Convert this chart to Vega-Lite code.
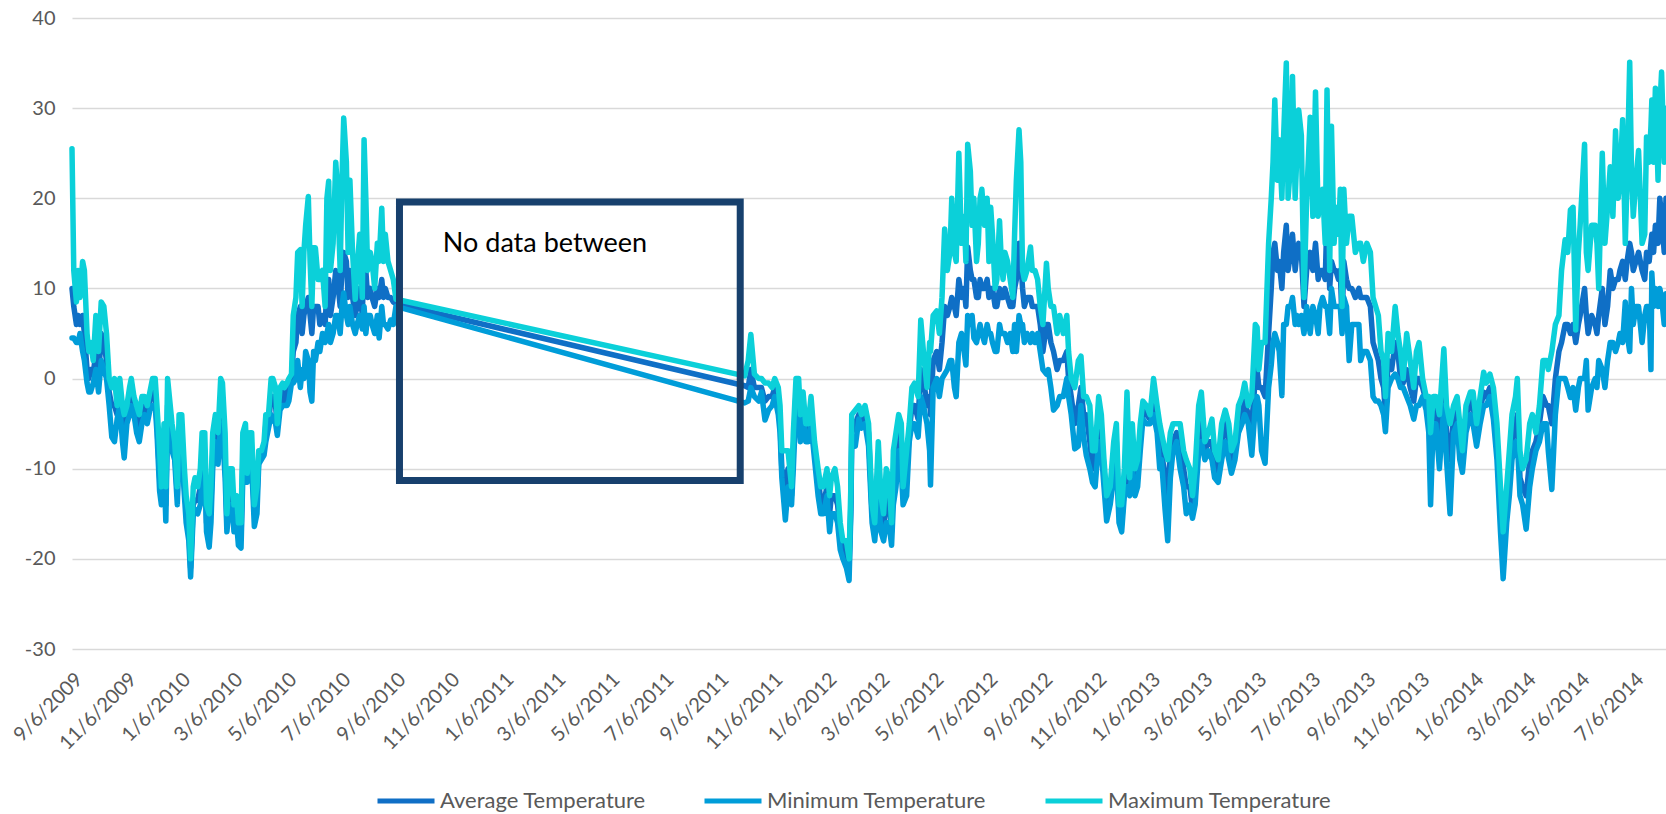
{
"$schema": "https://vega.github.io/schema/vega-lite/v6.json",
"width": 1594, "height": 631,
"autosize": {"type": "none"},
"padding": {"left": 72, "top": 18, "right": 0, "bottom": 165},
"background": "white",
"config": {"view": {"stroke": null}, "font": "Lato"},
"datasets": {"temps": [
{"date":"2009-09-06","max":25.5,"avg":10,"min":4.5},
{"date":"2009-09-08","max":12,"avg":8,"min":4.5},
{"date":"2009-09-11","max":8.5,"avg":6,"min":4},
{"date":"2009-09-13","max":12,"avg":7,"min":4},
{"date":"2009-09-15","max":9,"avg":6,"min":5},
{"date":"2009-09-18","max":13,"avg":7,"min":3},
{"date":"2009-09-20","max":12,"avg":5,"min":2},
{"date":"2009-09-23","max":5,"avg":1,"min":-0.5},
{"date":"2009-09-25","max":3,"avg":0,"min":-1.5},
{"date":"2009-09-27","max":4,"avg":1,"min":-1.5},
{"date":"2009-09-30","max":2,"avg":0.5,"min":-0.5},
{"date":"2009-10-03","max":7,"avg":3,"min":1},
{"date":"2009-10-06","max":3,"avg":0,"min":-1.5},
{"date":"2009-10-09","max":8.5,"avg":5,"min":2},
{"date":"2009-10-12","max":8,"avg":4,"min":1},
{"date":"2009-10-15","max":5,"avg":2,"min":0},
{"date":"2009-10-18","max":0,"avg":-1.5,"min":-3},
{"date":"2009-10-21","max":-1,"avg":-3,"min":-6.5},
{"date":"2009-10-24","max":0,"avg":-3,"min":-7},
{"date":"2009-10-27","max":-3,"avg":-4,"min":-4.5},
{"date":"2009-10-30","max":0,"avg":-2,"min":-3},
{"date":"2009-11-02","max":-3,"avg":-5,"min":-7},
{"date":"2009-11-04","max":-4,"avg":-6,"min":-8.8},
{"date":"2009-11-07","max":-3,"avg":-4,"min":-5},
{"date":"2009-11-10","max":-1,"avg":-2.5,"min":-4},
{"date":"2009-11-12","max":0,"avg":-1.5,"min":-3},
{"date":"2009-11-15","max":-2,"avg":-3,"min":-4},
{"date":"2009-11-18","max":-3,"avg":-4.5,"min":-6},
{"date":"2009-11-21","max":-4,"avg":-5.5,"min":-7},
{"date":"2009-11-24","max":-2,"avg":-3.5,"min":-5},
{"date":"2009-11-27","max":-2,"avg":-3,"min":-4},
{"date":"2009-11-30","max":-3,"avg":-4,"min":-5},
{"date":"2009-12-03","max":-1.5,"avg":-2.5,"min":-3.5},
{"date":"2009-12-06","max":0,"avg":-1.5,"min":-3},
{"date":"2009-12-09","max":0,"avg":-2,"min":-3},
{"date":"2009-12-11","max":-3,"avg":-5,"min":-6},
{"date":"2009-12-14","max":-8,"avg":-11,"min":-12.5},
{"date":"2009-12-16","max":-12,"avg":-13,"min":-14},
{"date":"2009-12-19","max":-5,"avg":-8,"min":-10},
{"date":"2009-12-21","max":-12,"avg":-14,"min":-15.8},
{"date":"2009-12-23","max":0,"avg":-3,"min":-5},
{"date":"2009-12-26","max":-3,"avg":-5,"min":-7},
{"date":"2009-12-28","max":-5,"avg":-6,"min":-8},
{"date":"2009-12-31","max":-7,"avg":-8,"min":-9},
{"date":"2010-01-03","max":-12,"avg":-13,"min":-14},
{"date":"2010-01-05","max":-4,"avg":-6,"min":-7.5},
{"date":"2010-01-08","max":-4,"avg":-6,"min":-8},
{"date":"2010-01-11","max":-10,"avg":-12,"min":-13},
{"date":"2010-01-13","max":-13,"avg":-14.5,"min":-16},
{"date":"2010-01-16","max":-15,"avg":-17,"min":-18},
{"date":"2010-01-18","max":-20,"avg":-21,"min":-22},
{"date":"2010-01-21","max":-12,"avg":-14,"min":-15},
{"date":"2010-01-23","max":-11,"avg":-13.5,"min":-14.5},
{"date":"2010-01-26","max":-12,"avg":-13.5,"min":-15},
{"date":"2010-01-29","max":-10,"avg":-12,"min":-14},
{"date":"2010-01-31","max":-6,"avg":-9,"min":-11},
{"date":"2010-02-03","max":-6,"avg":-8,"min":-10},
{"date":"2010-02-05","max":-14,"avg":-16,"min":-17},
{"date":"2010-02-08","max":-15,"avg":-17,"min":-18.7},
{"date":"2010-02-10","max":-12,"avg":-14,"min":-16},
{"date":"2010-02-12","max":-6,"avg":-8.5,"min":-10},
{"date":"2010-02-15","max":-4,"avg":-6,"min":-7},
{"date":"2010-02-18","max":-6,"avg":-8,"min":-9.5},
{"date":"2010-02-21","max":0,"avg":-3,"min":-5},
{"date":"2010-02-23","max":-0.5,"avg":-4,"min":-6},
{"date":"2010-02-26","max":-6,"avg":-9,"min":-11},
{"date":"2010-02-28","max":-15,"avg":-16,"min":-17},
{"date":"2010-03-03","max":-10,"avg":-12,"min":-14},
{"date":"2010-03-06","max":-10,"avg":-13,"min":-14},
{"date":"2010-03-08","max":-14,"avg":-15.5,"min":-17},
{"date":"2010-03-11","max":-13,"avg":-15,"min":-16},
{"date":"2010-03-13","max":-16,"avg":-17.5,"min":-18.5},
{"date":"2010-03-16","max":-16,"avg":-17.5,"min":-18.8},
{"date":"2010-03-18","max":-6,"avg":-9,"min":-11},
{"date":"2010-03-21","max":-5,"avg":-7,"min":-8},
{"date":"2010-03-23","max":-10.5,"avg":-11,"min":-11.5},
{"date":"2010-03-26","max":-6,"avg":-7,"min":-8},
{"date":"2010-03-28","max":-6,"avg":-8,"min":-9.5},
{"date":"2010-03-31","max":-14,"avg":-15,"min":-16.4},
{"date":"2010-04-03","max":-12,"avg":-13,"min":-15},
{"date":"2010-04-05","max":-8,"avg":-9,"min":-9.5},
{"date":"2010-04-08","max":-8,"avg":-8.5,"min":-9},
{"date":"2010-04-11","max":-7,"avg":-8,"min":-8.5},
{"date":"2010-04-13","max":-4,"avg":-5,"min":-7},
{"date":"2010-04-16","max":-4,"avg":-5,"min":-5.5},
{"date":"2010-04-19","max":0,"avg":-2,"min":-4},
{"date":"2010-04-21","max":0,"avg":-2,"min":-4.5},
{"date":"2010-04-24","max":-1,"avg":-3,"min":-5},
{"date":"2010-04-26","max":-5,"avg":-5.5,"min":-6.3},
{"date":"2010-04-29","max":-1,"avg":-2.5,"min":-3.5},
{"date":"2010-05-02","max":-0.5,"avg":-1.5,"min":-3},
{"date":"2010-05-04","max":-1,"avg":-2.5,"min":-3},
{"date":"2010-05-07","max":-0.5,"avg":-1.5,"min":-3},
{"date":"2010-05-09","max":0,"avg":-1,"min":-2.5},
{"date":"2010-05-12","max":0.5,"avg":0,"min":-0.5},
{"date":"2010-05-14","max":7,"avg":3,"min":-0.5},
{"date":"2010-05-17","max":9,"avg":4,"min":0},
{"date":"2010-05-19","max":14,"avg":7,"min":2},
{"date":"2010-05-22","max":14.3,"avg":8,"min":-1},
{"date":"2010-05-24","max":8,"avg":5,"min":1},
{"date":"2010-05-26","max":14,"avg":7,"min":0},
{"date":"2010-05-28","max":17,"avg":8,"min":3},
{"date":"2010-05-31","max":20.2,"avg":9,"min":2},
{"date":"2010-06-02","max":13,"avg":7,"min":-1.5},
{"date":"2010-06-04","max":8,"avg":5,"min":-2.5},
{"date":"2010-06-06","max":14.5,"avg":8,"min":3},
{"date":"2010-06-08","max":14.5,"avg":8,"min":2},
{"date":"2010-06-11","max":11,"avg":8,"min":4},
{"date":"2010-06-13","max":11,"avg":6,"min":3},
{"date":"2010-06-16","max":12,"avg":7,"min":5},
{"date":"2010-06-19","max":8,"avg":6,"min":4},
{"date":"2010-06-21","max":20,"avg":10,"min":5},
{"date":"2010-06-23","max":21.9,"avg":11,"min":6},
{"date":"2010-06-25","max":12,"avg":7,"min":4},
{"date":"2010-06-28","max":15,"avg":9,"min":5},
{"date":"2010-07-01","max":24,"avg":12,"min":7},
{"date":"2010-07-03","max":21,"avg":11,"min":7},
{"date":"2010-07-06","max":12,"avg":8,"min":5},
{"date":"2010-07-08","max":22,"avg":12,"min":8},
{"date":"2010-07-10","max":28.9,"avg":14,"min":9.5},
{"date":"2010-07-13","max":24,"avg":13,"min":7},
{"date":"2010-07-15","max":14,"avg":9,"min":6},
{"date":"2010-07-17","max":22,"avg":12,"min":8},
{"date":"2010-07-20","max":14,"avg":9,"min":6},
{"date":"2010-07-23","max":8.8,"avg":7,"min":5},
{"date":"2010-07-25","max":12,"avg":8,"min":6},
{"date":"2010-07-28","max":16,"avg":10,"min":7},
{"date":"2010-07-31","max":9,"avg":7,"min":5.5},
{"date":"2010-08-02","max":26.5,"avg":14,"min":8},
{"date":"2010-08-04","max":20,"avg":12,"min":5},
{"date":"2010-08-06","max":12,"avg":9,"min":7},
{"date":"2010-08-09","max":14,"avg":10,"min":7},
{"date":"2010-08-11","max":13,"avg":9,"min":6},
{"date":"2010-08-14","max":10,"avg":8,"min":5},
{"date":"2010-08-17","max":15,"avg":10,"min":7},
{"date":"2010-08-19","max":13,"avg":9,"min":4.5},
{"date":"2010-08-22","max":18.9,"avg":11,"min":8},
{"date":"2010-08-24","max":13,"avg":9,"min":6},
{"date":"2010-08-26","max":16,"avg":10,"min":6},
{"date":"2010-08-29","max":13,"avg":9,"min":5.5},
{"date":"2010-09-01","max":12,"avg":9,"min":6.5},
{"date":"2010-09-04","max":11,"avg":8.5,"min":6},
{"date":"2010-09-07","max":8.8,"avg":8.3,"min":8},
{"date":"2011-10-06","max":0.3,"avg":-0.8,"min":-2.7},
{"date":"2011-10-10","max":2,"avg":-1,"min":-2.5},
{"date":"2011-10-13","max":4.9,"avg":1,"min":-1},
{"date":"2011-10-17","max":0.5,"avg":-1,"min":-2},
{"date":"2011-10-22","max":0,"avg":-1,"min":-2.5},
{"date":"2011-10-25","max":0,"avg":-1,"min":-1.5},
{"date":"2011-10-29","max":-0.5,"avg":-2.5,"min":-4.6},
{"date":"2011-11-02","max":-0.5,"avg":-2,"min":-3.5},
{"date":"2011-11-06","max":-1,"avg":-2,"min":-3},
{"date":"2011-11-09","max":0,"avg":-1,"min":-2},
{"date":"2011-11-13","max":-1,"avg":-3,"min":-4},
{"date":"2011-11-15","max":-3,"avg":-5,"min":-6},
{"date":"2011-11-17","max":-8,"avg":-10,"min":-11},
{"date":"2011-11-21","max":-8,"avg":-12,"min":-15.7},
{"date":"2011-11-24","max":-8,"avg":-10,"min":-12},
{"date":"2011-11-28","max":-12,"avg":-13,"min":-14},
{"date":"2011-11-30","max":-6,"avg":-8,"min":-10},
{"date":"2011-12-03","max":0,"avg":-1.5,"min":-3},
{"date":"2011-12-06","max":0,"avg":-2,"min":-3.5},
{"date":"2011-12-08","max":-4,"avg":-5,"min":-7},
{"date":"2011-12-11","max":-1.5,"avg":-3,"min":-4},
{"date":"2011-12-14","max":-5,"avg":-6,"min":-7},
{"date":"2011-12-17","max":-5,"avg":-6,"min":-7},
{"date":"2011-12-20","max":-2,"avg":-4,"min":-5},
{"date":"2011-12-24","max":-7,"avg":-8,"min":-9},
{"date":"2011-12-28","max":-10,"avg":-11,"min":-13},
{"date":"2011-12-31","max":-12,"avg":-13.5,"min":-15},
{"date":"2012-01-03","max":-12,"avg":-14,"min":-15},
{"date":"2012-01-07","max":-10,"avg":-12,"min":-13},
{"date":"2012-01-10","max":-13,"avg":-15,"min":-17},
{"date":"2012-01-12","max":-11,"avg":-13,"min":-15},
{"date":"2012-01-16","max":-10,"avg":-13,"min":-15},
{"date":"2012-01-19","max":-12,"avg":-14,"min":-16},
{"date":"2012-01-22","max":-16,"avg":-17,"min":-19},
{"date":"2012-01-25","max":-18,"avg":-19,"min":-20},
{"date":"2012-01-29","max":-18,"avg":-19.5,"min":-21},
{"date":"2012-02-01","max":-20,"avg":-21,"min":-22.4},
{"date":"2012-02-03","max":-12,"avg":-14,"min":-15},
{"date":"2012-02-04","max":-4,"avg":-6,"min":-7},
{"date":"2012-02-08","max":-3.5,"avg":-5,"min":-7.5},
{"date":"2012-02-12","max":-3,"avg":-4,"min":-4.5},
{"date":"2012-02-15","max":-4,"avg":-5,"min":-5.5},
{"date":"2012-02-19","max":-3,"avg":-4,"min":-5},
{"date":"2012-02-23","max":-5,"avg":-6,"min":-7.5},
{"date":"2012-02-27","max":-14,"avg":-15,"min":-16},
{"date":"2012-03-01","max":-16,"avg":-17,"min":-18},
{"date":"2012-03-05","max":-7,"avg":-10,"min":-13},
{"date":"2012-03-08","max":-13,"avg":-15,"min":-17},
{"date":"2012-03-11","max":-15,"avg":-16.5,"min":-18},
{"date":"2012-03-14","max":-10,"avg":-13,"min":-16},
{"date":"2012-03-17","max":-11,"avg":-14,"min":-16},
{"date":"2012-03-20","max":-16,"avg":-17,"min":-18.5},
{"date":"2012-03-22","max":-8,"avg":-11,"min":-14},
{"date":"2012-03-25","max":-6,"avg":-9,"min":-12},
{"date":"2012-03-28","max":-4,"avg":-6,"min":-8},
{"date":"2012-03-31","max":-5,"avg":-8,"min":-10},
{"date":"2012-04-02","max":-12,"avg":-13,"min":-14},
{"date":"2012-04-06","max":-8,"avg":-10.5,"min":-13},
{"date":"2012-04-09","max":-5,"avg":-6,"min":-7},
{"date":"2012-04-12","max":-1,"avg":-3,"min":-5},
{"date":"2012-04-15","max":-0.5,"avg":-3,"min":-5},
{"date":"2012-04-19","max":-2,"avg":-4.5,"min":-6.5},
{"date":"2012-04-22","max":6.5,"avg":1,"min":-2},
{"date":"2012-04-25","max":3,"avg":0,"min":-3},
{"date":"2012-04-29","max":-1,"avg":-3,"min":-5},
{"date":"2012-05-02","max":4,"avg":-2,"min":-8},
{"date":"2012-05-03","max":3,"avg":-4,"min":-11.8},
{"date":"2012-05-06","max":7,"avg":2,"min":-1},
{"date":"2012-05-10","max":7.5,"avg":3,"min":0},
{"date":"2012-05-13","max":5,"avg":1,"min":-2},
{"date":"2012-05-16","max":9,"avg":4,"min":0},
{"date":"2012-05-19","max":16.6,"avg":8,"min":0.5},
{"date":"2012-05-22","max":12,"avg":7,"min":1},
{"date":"2012-05-25","max":14,"avg":8,"min":2},
{"date":"2012-05-27","max":20,"avg":9,"min":2},
{"date":"2012-05-30","max":14,"avg":8,"min":-1},
{"date":"2012-06-01","max":13,"avg":7,"min":-2},
{"date":"2012-06-04","max":25,"avg":11,"min":4},
{"date":"2012-06-07","max":15,"avg":9,"min":5},
{"date":"2012-06-10","max":18,"avg":10,"min":3},
{"date":"2012-06-12","max":13,"avg":8,"min":1.5},
{"date":"2012-06-14","max":26,"avg":14.6,"min":7},
{"date":"2012-06-17","max":23,"avg":12,"min":6},
{"date":"2012-06-19","max":17,"avg":11,"min":7},
{"date":"2012-06-21","max":20,"avg":11,"min":4.5},
{"date":"2012-06-24","max":13,"avg":9,"min":4},
{"date":"2012-06-26","max":15,"avg":9,"min":5},
{"date":"2012-06-28","max":20,"avg":11,"min":6},
{"date":"2012-06-30","max":21,"avg":10,"min":5},
{"date":"2012-07-03","max":17,"avg":10,"min":4},
{"date":"2012-07-06","max":20,"avg":11,"min":6},
{"date":"2012-07-08","max":13,"avg":9,"min":5},
{"date":"2012-07-10","max":19,"avg":10,"min":5},
{"date":"2012-07-12","max":16,"avg":10,"min":4},
{"date":"2012-07-15","max":10,"avg":8,"min":3},
{"date":"2012-07-17","max":11,"avg":8,"min":3},
{"date":"2012-07-20","max":17.5,"avg":10,"min":6},
{"date":"2012-07-22","max":13,"avg":9,"min":5},
{"date":"2012-07-24","max":11,"avg":9,"min":5},
{"date":"2012-07-26","max":14,"avg":10,"min":5},
{"date":"2012-07-29","max":13,"avg":9,"min":4},
{"date":"2012-08-01","max":11,"avg":8,"min":5},
{"date":"2012-08-04","max":9,"avg":8,"min":3},
{"date":"2012-08-06","max":16,"avg":10,"min":6},
{"date":"2012-08-08","max":22,"avg":11,"min":3},
{"date":"2012-08-11","max":27.6,"avg":15,"min":7},
{"date":"2012-08-13","max":24,"avg":13,"min":6},
{"date":"2012-08-15","max":12,"avg":10,"min":6},
{"date":"2012-08-17","max":11,"avg":8,"min":4},
{"date":"2012-08-20","max":12,"avg":9,"min":5},
{"date":"2012-08-24","max":14.6,"avg":9,"min":4},
{"date":"2012-08-26","max":12,"avg":8,"min":5},
{"date":"2012-08-29","max":12,"avg":8,"min":4},
{"date":"2012-09-01","max":11,"avg":8,"min":5},
{"date":"2012-09-04","max":8,"avg":6,"min":3},
{"date":"2012-09-07","max":6,"avg":3,"min":1},
{"date":"2012-09-11","max":12.8,"avg":6,"min":0.5},
{"date":"2012-09-13","max":10,"avg":6,"min":1},
{"date":"2012-09-16","max":8,"avg":4,"min":-1},
{"date":"2012-09-19","max":8,"avg":3,"min":-3.5},
{"date":"2012-09-23","max":5,"avg":1,"min":-3},
{"date":"2012-09-26","max":7,"avg":2,"min":-2},
{"date":"2012-09-30","max":5,"avg":2,"min":-2},
{"date":"2012-10-04","max":7,"avg":3,"min":0},
{"date":"2012-10-06","max":3,"avg":0,"min":-2},
{"date":"2012-10-09","max":0,"avg":-2,"min":-4},
{"date":"2012-10-13","max":-1,"avg":-5,"min":-7.8},
{"date":"2012-10-17","max":2,"avg":-3,"min":-7.5},
{"date":"2012-10-20","max":2.5,"avg":-1,"min":-3},
{"date":"2012-10-23","max":-2,"avg":-4,"min":-6.5},
{"date":"2012-10-26","max":-2,"avg":-4,"min":-8.5},
{"date":"2012-10-30","max":-3,"avg":-7,"min":-10},
{"date":"2012-11-02","max":-8,"avg":-10,"min":-11.5},
{"date":"2012-11-05","max":-8,"avg":-10,"min":-12},
{"date":"2012-11-09","max":-2,"avg":-5,"min":-7},
{"date":"2012-11-12","max":-4,"avg":-6,"min":-8},
{"date":"2012-11-15","max":-9,"avg":-10,"min":-12},
{"date":"2012-11-18","max":-13,"avg":-14,"min":-15.8},
{"date":"2012-11-22","max":-12,"avg":-13,"min":-14},
{"date":"2012-11-26","max":-7,"avg":-9,"min":-11},
{"date":"2012-11-29","max":-5,"avg":-7,"min":-9},
{"date":"2012-12-02","max":-14,"avg":-15,"min":-16},
{"date":"2012-12-05","max":-14,"avg":-16,"min":-17},
{"date":"2012-12-08","max":-10,"avg":-12,"min":-13},
{"date":"2012-12-11","max":-1.5,"avg":-8,"min":-12},
{"date":"2012-12-14","max":-11,"avg":-12,"min":-13},
{"date":"2012-12-17","max":-5,"avg":-9,"min":-10},
{"date":"2012-12-20","max":-10,"avg":-11.5,"min":-13},
{"date":"2012-12-23","max":-9,"avg":-11,"min":-12},
{"date":"2012-12-26","max":-5,"avg":-6.5,"min":-8},
{"date":"2012-12-29","max":-2.5,"avg":-3.5,"min":-4.5},
{"date":"2013-01-02","max":-3,"avg":-4,"min":-5},
{"date":"2013-01-06","max":-4,"avg":-4.5,"min":-5},
{"date":"2013-01-10","max":0,"avg":-2,"min":-4},
{"date":"2013-01-14","max":-3,"avg":-4,"min":-6},
{"date":"2013-01-17","max":-5,"avg":-7,"min":-10},
{"date":"2013-01-19","max":-6,"avg":-8,"min":-9},
{"date":"2013-01-23","max":-8,"avg":-11,"min":-14.5},
{"date":"2013-01-26","max":-9,"avg":-13,"min":-18},
{"date":"2013-01-29","max":-6,"avg":-8,"min":-11},
{"date":"2013-02-01","max":-5,"avg":-7,"min":-8},
{"date":"2013-02-05","max":-5,"avg":-6,"min":-7},
{"date":"2013-02-09","max":-5,"avg":-7,"min":-10},
{"date":"2013-02-13","max":-8,"avg":-10,"min":-12},
{"date":"2013-02-16","max":-9,"avg":-12,"min":-15},
{"date":"2013-02-20","max":-10,"avg":-12,"min":-14},
{"date":"2013-02-23","max":-13,"avg":-14.5,"min":-15.5},
{"date":"2013-02-26","max":-10,"avg":-12,"min":-14},
{"date":"2013-03-02","max":-3,"avg":-6,"min":-8},
{"date":"2013-03-05","max":-1.5,"avg":-4,"min":-7},
{"date":"2013-03-09","max":-7,"avg":-8,"min":-9},
{"date":"2013-03-13","max":-6,"avg":-7,"min":-8},
{"date":"2013-03-17","max":-4.5,"avg":-7,"min":-9},
{"date":"2013-03-20","max":-8,"avg":-10,"min":-11},
{"date":"2013-03-24","max":-9,"avg":-10.5,"min":-11.5},
{"date":"2013-03-28","max":-5,"avg":-7,"min":-9},
{"date":"2013-04-01","max":-3.5,"avg":-5,"min":-7},
{"date":"2013-04-05","max":-5,"avg":-7,"min":-9},
{"date":"2013-04-08","max":-8,"avg":-9,"min":-10.5},
{"date":"2013-04-12","max":-7,"avg":-8,"min":-9},
{"date":"2013-04-16","max":-3,"avg":-5,"min":-6},
{"date":"2013-04-20","max":-2,"avg":-4,"min":-5},
{"date":"2013-04-23","max":-0.5,"avg":-2.5,"min":-4},
{"date":"2013-04-27","max":-3,"avg":-4,"min":-5},
{"date":"2013-05-01","max":-2,"avg":-5,"min":-8.5},
{"date":"2013-05-05","max":6,"avg":0,"min":-3},
{"date":"2013-05-07","max":5.7,"avg":1,"min":-2},
{"date":"2013-05-09","max":1,"avg":-1,"min":-3},
{"date":"2013-05-12","max":4,"avg":-1,"min":-8},
{"date":"2013-05-16","max":4,"avg":-2,"min":-9.4},
{"date":"2013-05-20","max":15,"avg":5,"min":-1},
{"date":"2013-05-23","max":20,"avg":10,"min":1.5},
{"date":"2013-05-25","max":24,"avg":14,"min":4},
{"date":"2013-05-27","max":30.9,"avg":15,"min":5},
{"date":"2013-05-30","max":22,"avg":12,"min":4},
{"date":"2013-06-01","max":26.5,"avg":13,"min":3},
{"date":"2013-06-04","max":20,"avg":10,"min":-1.9},
{"date":"2013-06-06","max":27,"avg":14,"min":6},
{"date":"2013-06-09","max":35,"avg":17,"min":6},
{"date":"2013-06-11","max":20,"avg":12,"min":8},
{"date":"2013-06-14","max":24,"avg":14,"min":8},
{"date":"2013-06-16","max":33.5,"avg":16,"min":9},
{"date":"2013-06-19","max":20,"avg":12,"min":6},
{"date":"2013-06-21","max":25,"avg":14,"min":7},
{"date":"2013-06-23","max":29.8,"avg":15,"min":6},
{"date":"2013-06-26","max":27,"avg":14,"min":7},
{"date":"2013-06-29","max":9,"avg":8,"min":5},
{"date":"2013-07-02","max":20,"avg":12,"min":8},
{"date":"2013-07-06","max":29,"avg":14,"min":5},
{"date":"2013-07-09","max":18,"avg":12,"min":8},
{"date":"2013-07-12","max":31.8,"avg":15,"min":7},
{"date":"2013-07-15","max":18,"avg":11,"min":5},
{"date":"2013-07-17","max":20,"avg":12,"min":8},
{"date":"2013-07-20","max":21,"avg":12,"min":9},
{"date":"2013-07-23","max":15,"avg":11,"min":8},
{"date":"2013-07-25","max":32,"avg":18.4,"min":8},
{"date":"2013-07-28","max":12,"avg":10,"min":5},
{"date":"2013-07-30","max":28,"avg":13,"min":10},
{"date":"2013-08-02","max":15,"avg":12,"min":8},
{"date":"2013-08-04","max":19,"avg":12,"min":8},
{"date":"2013-08-07","max":16,"avg":11,"min":8},
{"date":"2013-08-09","max":21,"avg":12,"min":8},
{"date":"2013-08-11","max":8,"avg":6,"min":5},
{"date":"2013-08-13","max":21,"avg":13,"min":9},
{"date":"2013-08-16","max":15,"avg":11,"min":8},
{"date":"2013-08-19","max":18,"avg":10,"min":2},
{"date":"2013-08-22","max":18,"avg":10,"min":6},
{"date":"2013-08-26","max":14,"avg":9,"min":6},
{"date":"2013-08-30","max":15,"avg":10,"min":6},
{"date":"2013-09-01","max":15,"avg":9,"min":2},
{"date":"2013-09-04","max":13,"avg":9,"min":3},
{"date":"2013-09-08","max":15,"avg":9,"min":3},
{"date":"2013-09-12","max":14,"avg":8,"min":2},
{"date":"2013-09-15","max":9,"avg":4,"min":-2},
{"date":"2013-09-18","max":8,"avg":3,"min":-2.5},
{"date":"2013-09-21","max":7,"avg":2,"min":-2.5},
{"date":"2013-09-24","max":3,"avg":0,"min":-3},
{"date":"2013-09-27","max":2,"avg":-1,"min":-4},
{"date":"2013-09-29","max":-2,"avg":-4,"min":-5.9},
{"date":"2013-10-02","max":5,"avg":2,"min":-1},
{"date":"2013-10-06","max":3,"avg":1,"min":0},
{"date":"2013-10-10","max":8,"avg":4,"min":0.5},
{"date":"2013-10-13","max":5,"avg":3,"min":0},
{"date":"2013-10-16","max":3,"avg":0,"min":-1},
{"date":"2013-10-19","max":0,"avg":-0.5,"min":-1},
{"date":"2013-10-23","max":5,"avg":1,"min":-2},
{"date":"2013-10-27","max":2,"avg":-1,"min":-3},
{"date":"2013-10-31","max":-1,"avg":-2.5,"min":-4.5},
{"date":"2013-11-03","max":3,"avg":0,"min":-3},
{"date":"2013-11-06","max":4,"avg":0,"min":-3},
{"date":"2013-11-10","max":0,"avg":-1,"min":-2},
{"date":"2013-11-14","max":-2,"avg":-2.5,"min":-3.5},
{"date":"2013-11-17","max":-2,"avg":-4,"min":-6},
{"date":"2013-11-19","max":-6,"avg":-10,"min":-14},
{"date":"2013-11-22","max":-2,"avg":-4,"min":-5},
{"date":"2013-11-25","max":-2,"avg":-3.5,"min":-5},
{"date":"2013-11-29","max":-4,"avg":-6,"min":-10},
{"date":"2013-12-04","max":3.3,"avg":0,"min":-3},
{"date":"2013-12-07","max":-3,"avg":-6,"min":-9},
{"date":"2013-12-11","max":-5,"avg":-9,"min":-15},
{"date":"2013-12-15","max":-3,"avg":-4,"min":-6},
{"date":"2013-12-19","max":-2,"avg":-3,"min":-5},
{"date":"2013-12-22","max":-5,"avg":-7,"min":-9},
{"date":"2013-12-25","max":-8,"avg":-9,"min":-10.4},
{"date":"2013-12-29","max":-3,"avg":-4.5,"min":-6},
{"date":"2014-01-03","max":-1.5,"avg":-2.5,"min":-4},
{"date":"2014-01-06","max":-1.5,"avg":-3,"min":-5},
{"date":"2014-01-10","max":-5,"avg":-6,"min":-7.5},
{"date":"2014-01-14","max":-2,"avg":-3.5,"min":-5},
{"date":"2014-01-18","max":0.7,"avg":-1.5,"min":-3},
{"date":"2014-01-21","max":-0.5,"avg":-2,"min":-3},
{"date":"2014-01-25","max":0.5,"avg":-1,"min":-2},
{"date":"2014-01-29","max":-1,"avg":-3,"min":-4.5},
{"date":"2014-02-02","max":-5,"avg":-7,"min":-9},
{"date":"2014-02-06","max":-12,"avg":-15,"min":-17},
{"date":"2014-02-09","max":-17,"avg":-20,"min":-22.2},
{"date":"2014-02-13","max":-12,"avg":-14,"min":-16},
{"date":"2014-02-16","max":-8,"avg":-11,"min":-13},
{"date":"2014-02-19","max":-4,"avg":-7,"min":-9},
{"date":"2014-02-23","max":-2,"avg":-5,"min":-7},
{"date":"2014-02-25","max":0,"avg":-4,"min":-7},
{"date":"2014-02-28","max":-8,"avg":-11,"min":-13},
{"date":"2014-03-03","max":-10,"avg":-12,"min":-14},
{"date":"2014-03-07","max":-9,"avg":-13,"min":-16.7},
{"date":"2014-03-11","max":-5,"avg":-9,"min":-12},
{"date":"2014-03-14","max":-4,"avg":-8,"min":-10},
{"date":"2014-03-18","max":-6,"avg":-7,"min":-8},
{"date":"2014-03-22","max":-3,"avg":-5,"min":-7},
{"date":"2014-03-26","max":2,"avg":-2,"min":-5},
{"date":"2014-03-30","max":2,"avg":-3,"min":-5},
{"date":"2014-04-01","max":1,"avg":-3,"min":-8},
{"date":"2014-04-05","max":3,"avg":-5,"min":-12.3},
{"date":"2014-04-09","max":6,"avg":0,"min":-4},
{"date":"2014-04-13","max":7,"avg":3,"min":0},
{"date":"2014-04-16","max":12,"avg":4,"min":0},
{"date":"2014-04-20","max":15.4,"avg":6,"min":0},
{"date":"2014-04-23","max":14,"avg":6,"min":-1},
{"date":"2014-04-26","max":18.7,"avg":5,"min":-2.1},
{"date":"2014-04-29","max":19,"avg":6,"min":-1},
{"date":"2014-05-02","max":5.4,"avg":4,"min":-3.5},
{"date":"2014-05-05","max":14,"avg":6,"min":-1},
{"date":"2014-05-07","max":17,"avg":7,"min":0},
{"date":"2014-05-12","max":26,"avg":10,"min":0},
{"date":"2014-05-14","max":14,"avg":7,"min":2},
{"date":"2014-05-16","max":12,"avg":5,"min":-3.5},
{"date":"2014-05-20","max":17,"avg":7,"min":-1},
{"date":"2014-05-24","max":17,"avg":6,"min":0},
{"date":"2014-05-26","max":15,"avg":5,"min":-1},
{"date":"2014-05-28","max":10,"avg":7,"min":2},
{"date":"2014-06-01","max":25,"avg":10,"min":1},
{"date":"2014-06-04","max":15,"avg":6,"min":-1},
{"date":"2014-06-07","max":19,"avg":8,"min":2},
{"date":"2014-06-10","max":23.5,"avg":12,"min":4},
{"date":"2014-06-13","max":18,"avg":10,"min":4},
{"date":"2014-06-16","max":27.5,"avg":11,"min":3},
{"date":"2014-06-19","max":20,"avg":11,"min":4},
{"date":"2014-06-21","max":22,"avg":12,"min":5},
{"date":"2014-06-24","max":28.7,"avg":13,"min":4},
{"date":"2014-06-27","max":15,"avg":11,"min":8.5},
{"date":"2014-06-29","max":22,"avg":13,"min":5},
{"date":"2014-07-02","max":35.1,"avg":15,"min":3},
{"date":"2014-07-04","max":23,"avg":14,"min":10},
{"date":"2014-07-06","max":18,"avg":12,"min":6},
{"date":"2014-07-09","max":22,"avg":13,"min":8},
{"date":"2014-07-12","max":25.3,"avg":14,"min":8},
{"date":"2014-07-16","max":15,"avg":12,"min":4},
{"date":"2014-07-19","max":16,"avg":11,"min":7},
{"date":"2014-07-21","max":26.8,"avg":14,"min":8},
{"date":"2014-07-24","max":24,"avg":13,"min":8},
{"date":"2014-07-26","max":28,"avg":15,"min":1},
{"date":"2014-07-27","max":30.9,"avg":16,"min":11.7},
{"date":"2014-07-29","max":24,"avg":14,"min":8},
{"date":"2014-07-31","max":32.2,"avg":17,"min":10},
{"date":"2014-08-03","max":22,"avg":15,"min":8},
{"date":"2014-08-05","max":30,"avg":20,"min":10},
{"date":"2014-08-07","max":34,"avg":18,"min":9},
{"date":"2014-08-10","max":24,"avg":14,"min":6},
{"date":"2014-08-12","max":30,"avg":20,"min":9.4}
]},
"layer": [
{"data": {"name": "temps"},
 "mark": {"type": "line", "strokeWidth": 5.5, "strokeJoin": "round", "strokeCap": "round"},
 "encoding": {
  "x": {"field": "date", "type": "temporal", "title": null,
   "scale": {"type": "utc", "domain": [{"year": 2009, "month": 9, "date": 6, "utc": true}, {"year": 2014, "month": 8, "date": 12, "utc": true}]},
   "axis": {"format": "%-m/%-d/%Y", "labelAngle": -45, "labelFontSize": 20, "labelFont": "Lato", "labelColor": "#595959", "grid": false, "domain": false, "ticks": false, "labelPadding": 20, "labelDx": 7.5, "labelDy": 7.5, "labelOverlap": false, "labelFlush": false, "labelBound": false,
    "values": [
     {"year": 2009, "month": 9, "date": 6, "utc": true}, {"year": 2009, "month": 11, "date": 6, "utc": true},
     {"year": 2010, "month": 1, "date": 6, "utc": true}, {"year": 2010, "month": 3, "date": 6, "utc": true}, {"year": 2010, "month": 5, "date": 6, "utc": true}, {"year": 2010, "month": 7, "date": 6, "utc": true}, {"year": 2010, "month": 9, "date": 6, "utc": true}, {"year": 2010, "month": 11, "date": 6, "utc": true},
     {"year": 2011, "month": 1, "date": 6, "utc": true}, {"year": 2011, "month": 3, "date": 6, "utc": true}, {"year": 2011, "month": 5, "date": 6, "utc": true}, {"year": 2011, "month": 7, "date": 6, "utc": true}, {"year": 2011, "month": 9, "date": 6, "utc": true}, {"year": 2011, "month": 11, "date": 6, "utc": true},
     {"year": 2012, "month": 1, "date": 6, "utc": true}, {"year": 2012, "month": 3, "date": 6, "utc": true}, {"year": 2012, "month": 5, "date": 6, "utc": true}, {"year": 2012, "month": 7, "date": 6, "utc": true}, {"year": 2012, "month": 9, "date": 6, "utc": true}, {"year": 2012, "month": 11, "date": 6, "utc": true},
     {"year": 2013, "month": 1, "date": 6, "utc": true}, {"year": 2013, "month": 3, "date": 6, "utc": true}, {"year": 2013, "month": 5, "date": 6, "utc": true}, {"year": 2013, "month": 7, "date": 6, "utc": true}, {"year": 2013, "month": 9, "date": 6, "utc": true}, {"year": 2013, "month": 11, "date": 6, "utc": true},
     {"year": 2014, "month": 1, "date": 6, "utc": true}, {"year": 2014, "month": 3, "date": 6, "utc": true}, {"year": 2014, "month": 5, "date": 6, "utc": true}, {"year": 2014, "month": 7, "date": 6, "utc": true}
    ]}},
  "y": {"field": "avg", "type": "quantitative", "title": null,
   "scale": {"domain": [-30, 40], "nice": false, "zero": false},
   "axis": {"values": [-30, -20, -10, 0, 10, 20, 30, 40], "labelExpr": "toString(datum.value)", "labelFontSize": 20, "labelFont": "Lato", "labelColor": "#595959", "grid": true, "gridColor": "#D9D9D9", "gridWidth": 1.5, "domain": false, "ticks": false, "labelPadding": 17}},
  "color": {"datum": "Average Temperature", "type": "nominal",
   "scale": {"domain": ["Average Temperature", "Minimum Temperature", "Maximum Temperature"], "range": ["#0F6FC6", "#009DD9", "#0BD0D9"]},
   "legend": {"title": null, "orient": "none", "legendX": 303, "legendY": 752, "direction": "horizontal", "symbolType": "stroke", "symbolSize": 3249, "symbolStrokeWidth": 5, "labelFontSize": 22, "labelFont": "Lato", "labelColor": "#595959", "labelOffset": 3, "labelLimit": 400, "columnPadding": 48}}
 }},
{"data": {"name": "temps"},
 "mark": {"type": "line", "strokeWidth": 5.5, "strokeJoin": "round", "strokeCap": "round"},
 "encoding": {
  "x": {"field": "date", "type": "temporal", "title": null},
  "y": {"field": "min", "type": "quantitative", "title": null},
  "color": {"datum": "Minimum Temperature", "type": "nominal"}
 }},
{"data": {"name": "temps"},
 "mark": {"type": "line", "strokeWidth": 5.5, "strokeJoin": "round", "strokeCap": "round"},
 "encoding": {
  "x": {"field": "date", "type": "temporal", "title": null},
  "y": {"field": "max", "type": "quantitative", "title": null},
  "color": {"datum": "Maximum Temperature", "type": "nominal"}
 }},
{"data": {"values": [{"start": "2010-09-11", "end": "2011-10-01", "top": 19.6, "bottom": -11.3}]},
 "mark": {"type": "rect", "filled": false, "stroke": "#17406D", "strokeWidth": 7},
 "encoding": {
  "x": {"field": "start", "type": "temporal", "title": null},
  "x2": {"field": "end"},
  "y": {"field": "top", "type": "quantitative", "title": null},
  "y2": {"field": "bottom"}
 }},
{"data": {"values": [{"date": "2010-10-30", "value": 14.9, "label": "No data between"}]},
 "mark": {"type": "text", "align": "left", "baseline": "middle", "fontSize": 27, "font": "Lato", "color": "#000000"},
 "encoding": {
  "x": {"field": "date", "type": "temporal", "title": null},
  "y": {"field": "value", "type": "quantitative", "title": null},
  "text": {"field": "label"}
 }}
]
}
